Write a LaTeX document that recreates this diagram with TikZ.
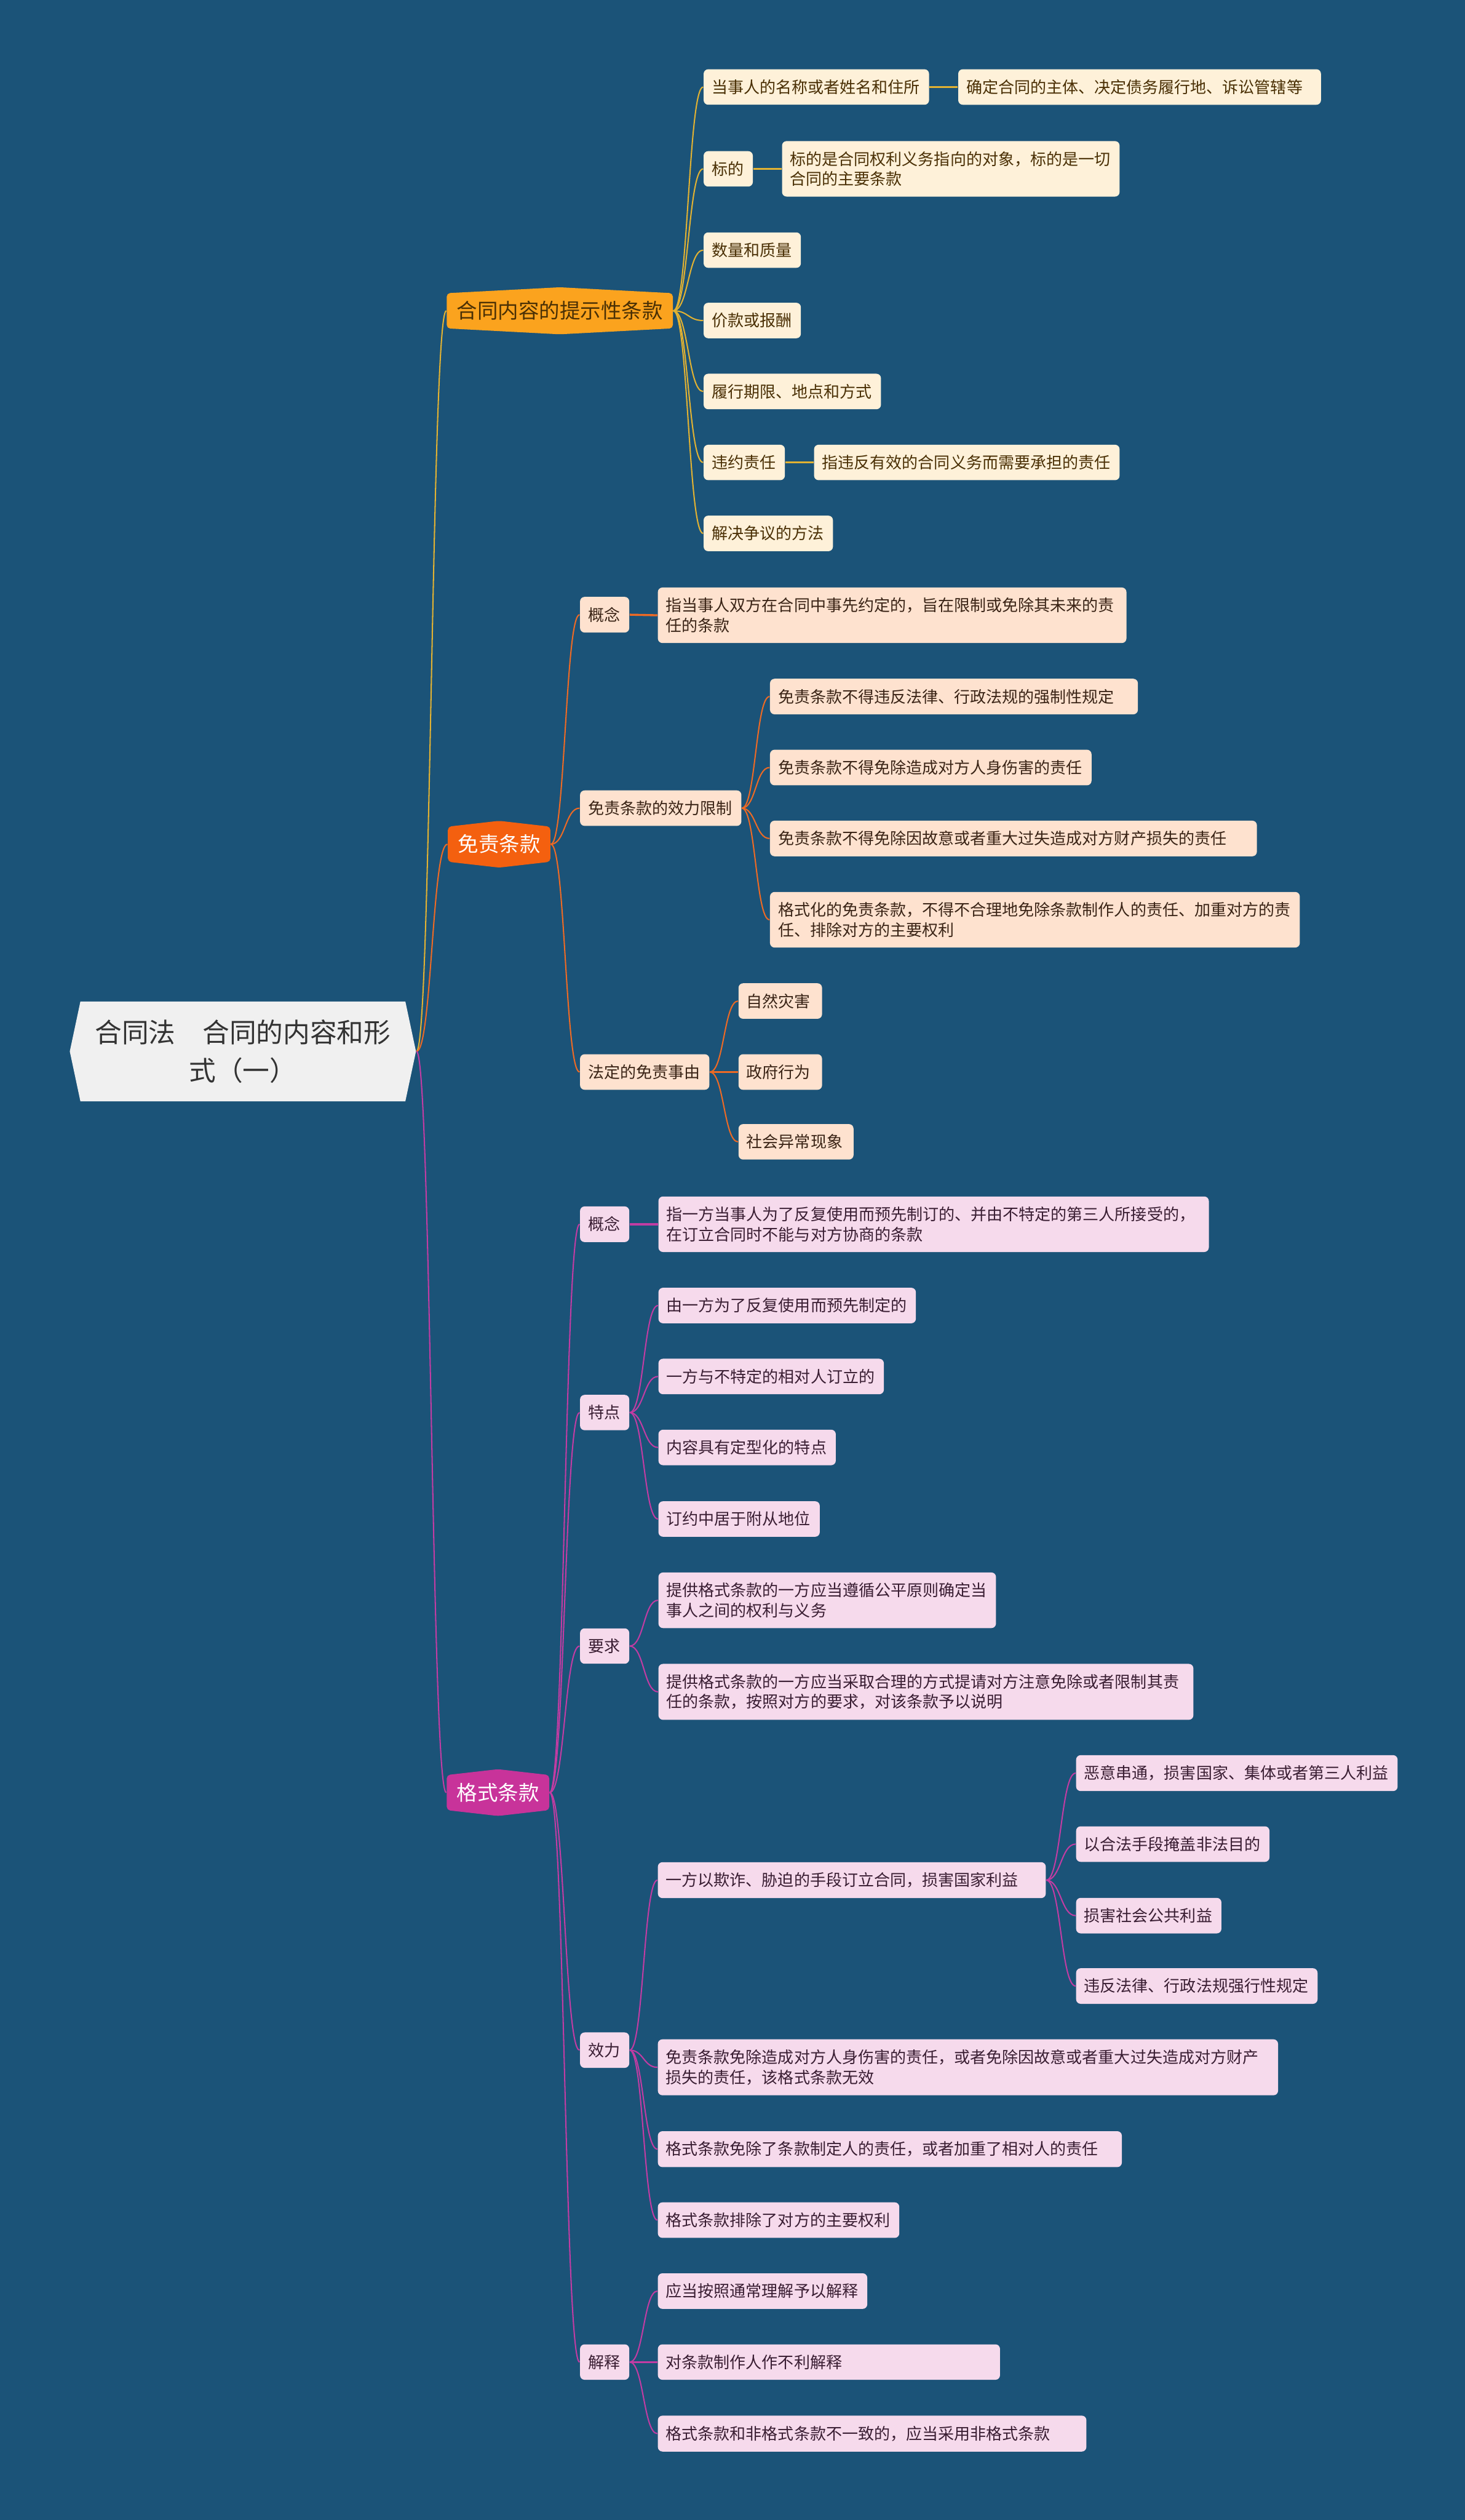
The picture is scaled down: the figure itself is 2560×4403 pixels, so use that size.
\documentclass[tikz,border=0pt]{standalone}
\usepackage{fontspec}
\setmainfont{Noto Sans CJK SC}
\usetikzlibrary{calc,shapes.symbols}

\definecolor{bg}{HTML}{1B5378}
\definecolor{rootfill}{HTML}{F0F0F0}
\definecolor{roottext}{HTML}{333333}
\definecolor{hintfill}{HTML}{FBA31E}
\definecolor{hintline}{HTML}{E2B232}
\definecolor{hintleaf}{HTML}{FEF1D9}
\definecolor{hinttext}{HTML}{4A3005}
\definecolor{exemptfill}{HTML}{F4600F}
\definecolor{exemptline}{HTML}{EE6A24}
\definecolor{exemptleaf}{HTML}{FEE2CF}
\definecolor{exempttext}{HTML}{3A2416}
\definecolor{stdfill}{HTML}{C8339A}
\definecolor{stdline}{HTML}{C23CA3}
\definecolor{stdleaf}{HTML}{F6DAEC}
\definecolor{stdtext}{HTML}{3A1E33}

\tikzset{
  leaf/.style={anchor=west, rounded corners=2pt, inner xsep=3.5pt, inner ysep=4.5pt,
    align=left, text width=#1, font=\fontsize{7pt}{8.75pt}\selectfont},
  hleaf/.style={leaf=#1, fill=hintleaf, text=hinttext},
  eleaf/.style={leaf=#1, fill=exemptleaf, text=exempttext},
  sleaf/.style={leaf=#1, fill=stdleaf, text=stdtext},
  branch/.style={shape=signal, signal to=north and south, anchor=west, rounded corners=1.5pt,
    inner xsep=4.4pt, inner ysep=3.5pt, font=\fontsize{9pt}{11pt}\selectfont},
  link/.style={line width=0.55pt, to path={.. controls ($(\tikztostart)!0.5!(\tikztotarget|-\tikztostart)$)
    and ($(\tikztotarget)!0.5!(\tikztostart|-\tikztotarget)$) .. (\tikztotarget)}},
  bar/.style={line width=0.9pt},
}

\begin{document}
\begin{tikzpicture}[x=0.25pt, y=-0.25pt]
\fill[bg] (0,0) rectangle (2560,4403);

% root
\node[shape=signal, signal to=east and west, signal pointer angle=156, fill=rootfill, text=roottext,
  text width=132pt, align=center, inner xsep=5pt, inner ysep=8pt,
  font=\fontsize{11.75pt}{16.5pt}\selectfont] (root) at (424.5,1837) {合同法　合同的内容和形\\式（一）};

% 合同内容的提示性条款
\node[branch, signal pointer angle=174, fill=hintfill, text=hinttext] (hint) at (780,543) {合同内容的提示性条款};
\node[hleaf=91.5pt] (h1) at (1229,152) {当事人的名称或者姓名和住所};
\node[hleaf=151.5pt] (h1a) at (1674,152) {确定合同的主体、决定债务履行地、诉讼管辖等};
\node[hleaf=14.5pt] (h2) at (1229,295) {标的};
\node[hleaf=140.5pt] (h2a) at (1366,295) {标的是合同权利义务指向的对象，标的是一切\\合同的主要条款};
\node[hleaf=35.5pt] (h3) at (1229,437) {数量和质量};
\node[hleaf=35.5pt] (h4) at (1229,560) {价款或报酬};
\node[hleaf=70.5pt] (h5) at (1229,684) {履行期限、地点和方式};
\node[hleaf=28.5pt] (h6) at (1229,808) {违约责任};
\node[hleaf=126.5pt] (h6a) at (1422,808) {指违反有效的合同义务而需要承担的责任};
\node[hleaf=49.5pt] (h7) at (1229,932) {解决争议的方法};

% 免责条款
\node[branch, signal pointer angle=167, fill=exemptfill, text=white] (exempt) at (782,1475) {免责条款};
\node[eleaf=14.5pt] (e1) at (1013,1074) {概念};
\node[eleaf=197.75pt] (e1a) at (1149,1075) {指当事人双方在合同中事先约定的，旨在限制或免除其未来的责\\任的条款};
\node[eleaf=63.5pt] (e2) at (1013,1412) {免责条款的效力限制};
\node[eleaf=153.75pt] (e2a) at (1345,1217) {免责条款不得违反法律、行政法规的强制性规定};
\node[eleaf=133.5pt] (e2b) at (1345,1341) {免责条款不得免除造成对方人身伤害的责任};
\node[eleaf=205.75pt] (e2c) at (1345,1465) {免责条款不得免除因故意或者重大过失造成对方财产损失的责任};
\node[eleaf=224.5pt] (e2d) at (1345,1607) {格式化的免责条款，不得不合理地免除条款制作人的责任、加重对方的责\\任、排除对方的主要权利};
\node[eleaf=49.5pt] (e3) at (1013,1873) {法定的免责事由};
\node[eleaf=29.5pt] (e3a) at (1290,1749) {自然灾害};
\node[eleaf=29.5pt] (e3b) at (1290,1873) {政府行为};
\node[eleaf=43.25pt] (e3c) at (1290,1995) {社会异常现象};

% 格式条款
\node[branch, signal pointer angle=167, fill=stdfill, text=white] (std) at (780,3132) {格式条款};
\node[sleaf=14.5pt] (s1) at (1013,2139) {概念};
\node[sleaf=233.5pt] (s1a) at (1150,2139) {指一方当事人为了反复使用而预先制订的、并由不特定的第三人所接受的，\\在订立合同时不能与对方协商的条款};
\node[sleaf=14.5pt] (s2) at (1013,2468) {特点};
\node[sleaf=105.5pt] (s2a) at (1150,2281) {由一方为了反复使用而预先制定的};
\node[sleaf=91.5pt] (s2b) at (1150,2405) {一方与不特定的相对人订立的};
\node[sleaf=70.5pt] (s2c) at (1150,2529) {内容具有定型化的特点};
\node[sleaf=63.5pt] (s2d) at (1150,2654) {订约中居于附从地位};
\node[sleaf=14.5pt] (s3) at (1013,2876) {要求};
\node[sleaf=140.5pt] (s3a) at (1150,2796) {提供格式条款的一方应当遵循公平原则确定当\\事人之间的权利与义务};
\node[sleaf=226.75pt] (s3b) at (1150,2956) {提供格式条款的一方应当采取合理的方式提请对方注意免除或者限制其责\\任的条款，按照对方的要求，对该条款予以说明};
\node[sleaf=14.5pt] (s4) at (1013,3582) {效力};
\node[sleaf=162.5pt] (s4a) at (1149,3285) {一方以欺诈、胁迫的手段订立合同，损害国家利益};
\node[sleaf=133.5pt] (s4a1) at (1880,3098) {恶意串通，损害国家、集体或者第三人利益};
\node[sleaf=77.5pt] (s4a2) at (1880,3222) {以合法手段掩盖非法目的};
\node[sleaf=56.5pt] (s4a3) at (1880,3347) {损害社会公共利益};
\node[sleaf=98.5pt] (s4a4) at (1880,3470) {违反法律、行政法规强行性规定};
\node[sleaf=264pt] (s4b) at (1149,3612) {免责条款免除造成对方人身伤害的责任，或者免除因故意或者重大过失造成对方财产\\损失的责任，该格式条款无效};
\node[sleaf=195.75pt] (s4c) at (1149,3755) {格式条款免除了条款制定人的责任，或者加重了相对人的责任};
\node[sleaf=98.5pt] (s4d) at (1149,3879) {格式条款排除了对方的主要权利};
\node[sleaf=14.5pt] (s5) at (1013,4127) {解释};
\node[sleaf=84.5pt] (s5a) at (1149,4003) {应当按照通常理解予以解释};
\node[sleaf=142.5pt] (s5b) at (1149,4127) {对条款制作人作不利解释};
\node[sleaf=180.25pt] (s5c) at (1149,4252) {格式条款和非格式条款不一致的，应当采用非格式条款};

% root links
\draw[hintline, link] (root.east) to (hint.west);
\draw[exemptline, link] (root.east) to (exempt.west);
\draw[stdline, link] (root.east) to (std.west);

% hint links
\draw[hintline, link] (hint.east) to (h1.west);
\draw[hintline, link] (hint.east) to (h2.west);
\draw[hintline, link] (hint.east) to (h3.west);
\draw[hintline, link] (hint.east) to (h4.west);
\draw[hintline, link] (hint.east) to (h5.west);
\draw[hintline, link] (hint.east) to (h6.west);
\draw[hintline, link] (hint.east) to (h7.west);
\draw[hintline, bar] (h1.east) -- (h1a.west);
\draw[hintline, bar] (h2.east) -- (h2a.west);
\draw[hintline, bar] (h6.east) -- (h6a.west);

% exempt links
\draw[exemptline, link] (exempt.east) to (e1.west);
\draw[exemptline, link] (exempt.east) to (e2.west);
\draw[exemptline, link] (exempt.east) to (e3.west);
\draw[exemptline, bar] (e1.east) -- (e1a.west);
\draw[exemptline, link] (e2.east) to (e2a.west);
\draw[exemptline, link] (e2.east) to (e2b.west);
\draw[exemptline, link] (e2.east) to (e2c.west);
\draw[exemptline, link] (e2.east) to (e2d.west);
\draw[exemptline, link] (e3.east) to (e3a.west);
\draw[exemptline, bar] (e3.east) -- (e3b.west);
\draw[exemptline, link] (e3.east) to (e3c.west);

% std links
\draw[stdline, link] (std.east) to (s1.west);
\draw[stdline, link] (std.east) to (s2.west);
\draw[stdline, link] (std.east) to (s3.west);
\draw[stdline, link] (std.east) to (s4.west);
\draw[stdline, link] (std.east) to (s5.west);
\draw[stdline, bar] (s1.east) -- (s1a.west);
\draw[stdline, link] (s2.east) to (s2a.west);
\draw[stdline, link] (s2.east) to (s2b.west);
\draw[stdline, link] (s2.east) to (s2c.west);
\draw[stdline, link] (s2.east) to (s2d.west);
\draw[stdline, link] (s3.east) to (s3a.west);
\draw[stdline, link] (s3.east) to (s3b.west);
\draw[stdline, link] (s4.east) to (s4a.west);
\draw[stdline, link] (s4.east) to (s4b.west);
\draw[stdline, link] (s4.east) to (s4c.west);
\draw[stdline, link] (s4.east) to (s4d.west);
\draw[stdline, link] (s4a.east) to (s4a1.west);
\draw[stdline, link] (s4a.east) to (s4a2.west);
\draw[stdline, link] (s4a.east) to (s4a3.west);
\draw[stdline, link] (s4a.east) to (s4a4.west);
\draw[stdline, link] (s5.east) to (s5a.west);
\draw[stdline, bar] (s5.east) -- (s5b.west);
\draw[stdline, link] (s5.east) to (s5c.west);
\end{tikzpicture}
\end{document}
